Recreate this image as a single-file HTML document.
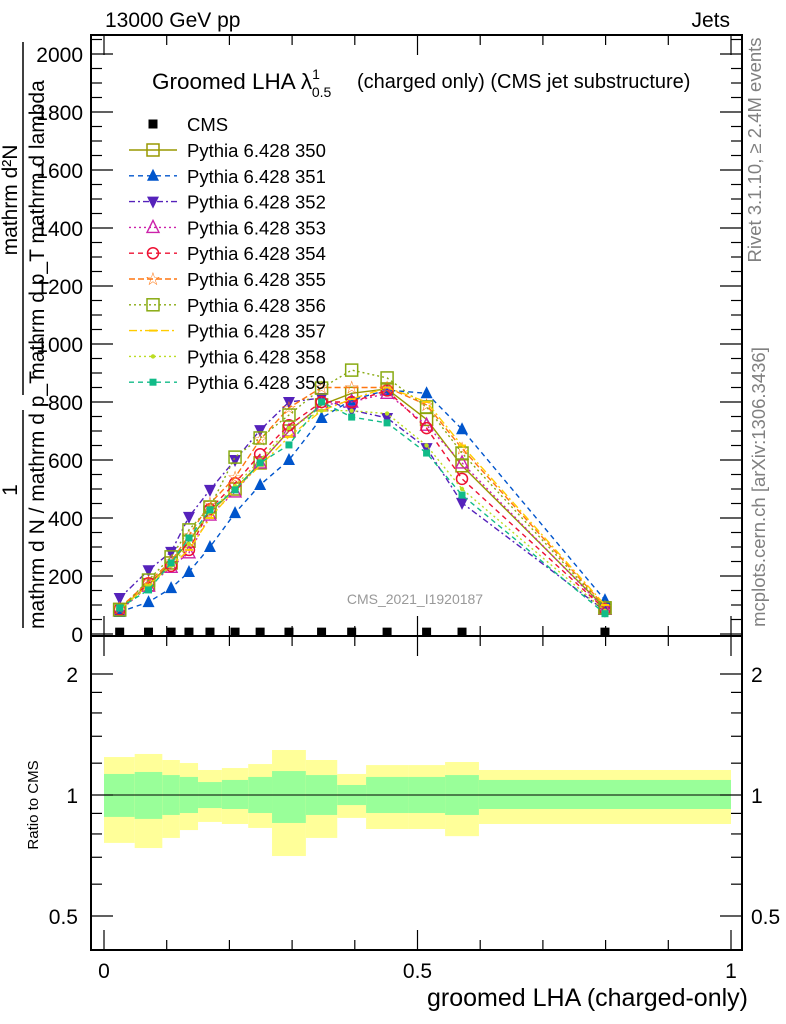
<!DOCTYPE html>
<html><head><meta charset="utf-8"><style>
body{margin:0;background:#fff;}
svg{display:block;font-family:"Liberation Sans",sans-serif;}
</style></head><body>
<svg id="c" width="786" height="1024" xmlns="http://www.w3.org/2000/svg">
<g id="g"></g>
</svg>
<script>
const categories=[0.025,0.071,0.107,0.1355,0.169,0.209,0.249,0.295,0.347,0.395,0.4515,0.5145,0.571,0.799];
const binEdges=[0,0.049,0.093,0.121,0.15,0.188,0.230,0.268,0.322,0.372,0.418,0.485,0.544,0.598,1.0];
const cmsValues=[3,3,3,3,3,3,3,3,3,3,3,3,3,3];
const s350=[85,170,245,320,420,500,590,700,790,830,845,740,580,90];
const s351=[76,110,158,214,300,417,514,600,745,807,841,830,706,117];
const s352=[124,220,283,404,497,600,703,800,814,772,745,641,452,80];
const s353=[80,165,230,280,410,490,590,700,790,800,830,720,590,85];
const s354=[85,175,235,290,430,520,620,720,800,800,840,710,535,85];
const s355=[90,180,250,340,450,540,670,780,850,850,850,790,640,95];
const s356=[83,186,266,359,438,610,676,755,848,910,883,783,624,90];
const s357=[85,170,235,290,400,500,580,680,770,810,850,800,650,100];
const s358=[85,165,235,310,420,510,600,710,770,770,760,650,500,80];
const s359=[90,152,245,331,428,497,590,652,800,748,728,624,479,70];
const greenUp=[1.128,1.141,1.121,1.109,1.077,1.09,1.109,1.147,1.121,1.059,1.109,1.109,1.121,1.09];
const greenDn=[0.882,0.872,0.892,0.902,0.928,0.923,0.902,0.852,0.892,0.944,0.902,0.902,0.892,0.923];
const yellowUp=[1.243,1.265,1.222,1.201,1.154,1.167,1.194,1.294,1.222,1.128,1.187,1.187,1.208,1.154];
const yellowDn=[0.760,0.738,0.782,0.818,0.857,0.847,0.828,0.705,0.782,0.877,0.823,0.823,0.79,0.847];
const yTicks=[0,200,400,600,800,1000,1200,1400,1600,1800,2000];
const xTicks=[0,0.5,1];
const rTicks=[0.5,1,2];

const NS="http://www.w3.org/2000/svg";
const g=document.getElementById('g');
const L=91,R=742,T=35,B=636,RB=950;
const X=v=>104+v*627;
const Y=v=>634-v*0.29;
const RY=v=>795-121*Math.log2(v);
function mk(t,a,p){const e=document.createElementNS(NS,t);for(const k in a)e.setAttribute(k,a[k]);(p||g).appendChild(e);return e;}

for(let i=0;i<categories.length;i++){
  const x0=X(binEdges[i]),x1=X(binEdges[i+1]);
  const yb=mk('rect',{x:x0,y:RY(yellowUp[i]),width:x1-x0,height:RY(yellowDn[i])-RY(yellowUp[i]),fill:'#ffff99'});
  
  
  const gb=mk('rect',{x:x0,y:RY(greenUp[i]),width:x1-x0,height:RY(greenDn[i])-RY(greenUp[i]),fill:'#99ff99'});
  
  
}
const ref=mk('line',{x1:X(0),x2:X(1),y1:RY(1),y2:RY(1),stroke:'#000','stroke-width':1});



for(const [t,b,n] of [[T,B,'main-plot-frame'],[B,RB,'ratio-plot-frame']]){
  const f=mk('rect',{x:L,y:t,width:R-L,height:b-t,fill:'none',stroke:'#000','stroke-width':2});
  
  
}
for(const [t,b] of [[T,B],[B,RB]]){
  for(let k=0;k<=10;k++){
    const v=k/10,len=(k%5==0)?20:10;
    mk('line',{x1:X(v),x2:X(v),y1:b,y2:b-len,stroke:'#000','stroke-width':1.2});
    mk('line',{x1:X(v),x2:X(v),y1:t,y2:t+len,stroke:'#000','stroke-width':1.2});
  }
}
for(let v=0;v<=2050;v+=50){
  const len=(v%200==0)?22:11;
  mk('line',{x1:L,x2:L+len,y1:Y(v),y2:Y(v),stroke:'#000','stroke-width':1.2});
  mk('line',{x1:R,x2:R-len,y1:Y(v),y2:Y(v),stroke:'#000','stroke-width':1.2});
}
yTicks.forEach(v=>{const t=mk('text',{x:83,y:Y(v)+8,'text-anchor':'end','font-size':21});t.textContent=v;

});
const rMinor=[0.5,0.6,0.7,0.8,0.9,1,1.2,1.4,1.6,1.8,2];
rMinor.forEach(v=>{const len=rTicks.includes(v)?22:11;
  mk('line',{x1:L,x2:L+len,y1:RY(v),y2:RY(v),stroke:'#000','stroke-width':1.2});
  mk('line',{x1:R,x2:R-len,y1:RY(v),y2:RY(v),stroke:'#000','stroke-width':1.2});});
rTicks.forEach(v=>{
  const t=mk('text',{x:78,y:RY(v)+8,'text-anchor':'end','font-size':21});t.textContent=v;
  
  
  const t2=mk('text',{x:751,y:RY(v)+8,'font-size':21});t2.textContent=v;
  
  });
xTicks.forEach(v=>{const t=mk('text',{x:X(v),y:978,'text-anchor':'middle','font-size':21});t.textContent=v;

});

function marker(type,x,y,col,p){
  const s=6;
  if(type=='sq')return mk('rect',{x:x-s,y:y-s,width:2*s,height:2*s,fill:'none',stroke:col,'stroke-width':1.5},p);
  if(type=='sqf')return mk('rect',{x:x-4.5,y:y-4.5,width:9,height:9,fill:col},p);
  if(type=='sqs')return mk('rect',{x:x-3.5,y:y-3.5,width:7,height:7,fill:col},p);
  if(type=='tu')return mk('polygon',{points:`${x},${y-7} ${x-6},${y+5} ${x+6},${y+5}`,fill:col},p);
  if(type=='td')return mk('polygon',{points:`${x},${y+7} ${x-6},${y-5} ${x+6},${y-5}`,fill:col},p);
  if(type=='to')return mk('polygon',{points:`${x},${y-7} ${x-6},${y+5} ${x+6},${y+5}`,fill:'none',stroke:col,'stroke-width':1.4},p);
  if(type=='co')return mk('circle',{cx:x,cy:y,r:5.5,fill:'none',stroke:col,'stroke-width':1.5},p);
  if(type=='st')return mk('text',{x:x,y:y+6,'text-anchor':'middle','font-size':18,fill:col},p);
  if(type=='dot')return mk('circle',{cx:x,cy:y,r:2.2,fill:col},p);
  if(type=='dash')return mk('line',{x1:x-4,x2:x+4,y1:y,y2:y,stroke:col,'stroke-width':2},p);
}
const series=[
 ['Pythia 6.428 350',s350,'#999900','none','sq','series-350'],
 ['Pythia 6.428 351',s351,'#0055cc','5,4','tu','series-351'],
 ['Pythia 6.428 352',s352,'#5522bb','6,3,2,3','td','series-352'],
 ['Pythia 6.428 353',s353,'#cc22aa','2,3','to','series-353'],
 ['Pythia 6.428 354',s354,'#ee1133','5,4','co','series-354'],
 ['Pythia 6.428 355',s355,'#ff7711','6,3','st','series-355'],
 ['Pythia 6.428 356',s356,'#88aa11','2,3','sq','series-356'],
 ['Pythia 6.428 357',s357,'#ffcc00','8,3,2,3','dash','series-357'],
 ['Pythia 6.428 358',s358,'#bbdd22','2,3','dot','series-358'],
 ['Pythia 6.428 359',s359,'#11bb88','5,4','sqs','series-359'],
];
series.forEach(([lab,vals,col,dash,m,name])=>{
  const grp=mk('g',{});
  
  
  const pts=vals.map((v,i)=>X(categories[i])+','+Y(v)).join(' ');
  const a={points:pts,fill:'none',stroke:col,'stroke-width':1.4};
  if(dash!='none')a['stroke-dasharray']=dash;
  mk('polyline',a,grp);
  vals.forEach((v,i)=>{const e=marker(m,X(categories[i]),Y(v),col,grp);if(m=='st')e.textContent='☆';});
});
const cg=mk('g',{});


cmsValues.forEach((v,i)=>{marker('sqf',X(categories[i]),Y(v)-1,'#000',cg);});

function txt(x,y,s,attrs,name){const t=mk('text',Object.assign({x:x,y:y},attrs));t.textContent=s;
 
 return t;}
const lg=mk('g',{});


marker('sqf',153,124,'#000',lg);
txt(187,131,'CMS',{'font-size':18.5},'legend-entry-cms');
series.forEach(([lab,vals,col,dash,m,name],k)=>{
  const y=150+k*25.8;
  const a={x1:129,x2:177,y1:y,y2:y,stroke:col,'stroke-width':1.4};
  if(dash!='none')a['stroke-dasharray']=dash;
  mk('line',a,lg);
  const e=marker(m,153,y,col,lg);if(m=='st')e.textContent='☆';
  txt(187,y+7,lab,{'font-size':18.5},'legend-entry-'+name);
});

txt(105,27,'13000 GeV pp',{'font-size':21},'beam-label');
txt(730,27,'Jets',{'font-size':21,'text-anchor':'end'},'process-label');
const ti=mk('text',{x:152,y:89,'font-size':22.5});


ti.innerHTML='Groomed LHA λ<tspan font-size="14" dy="-10">1</tspan><tspan font-size="14" dx="-8" dy="18">0.5</tspan>';
txt(357,88,'(charged only) (CMS jet substructure)',{'font-size':20},'plot-subtitle');
txt(415,604,'CMS_2021_I1920187',{'font-size':14,fill:'#999','text-anchor':'middle'},'analysis-id');
txt(748,1006,'groomed LHA (charged-only)',{'font-size':25,'text-anchor':'end'},'x-axis-title');
txt(0,0,'Ratio to CMS',{'font-size':15,'text-anchor':'middle',transform:'translate(38,805) rotate(-90)'},'ratio-y-axis-title');
txt(0,0,'Rivet 3.1.10, ≥ 2.4M events',{'font-size':18.5,fill:'#808080','text-anchor':'middle',transform:'translate(761,150) rotate(-90)'},'rivet-label');
txt(0,0,'mcplots.cern.ch [arXiv:1306.3436]',{'font-size':18.5,fill:'#808080','text-anchor':'middle',transform:'translate(765,487) rotate(-90)'},'mcplots-label');
txt(0,0,'mathrm d²N',{'font-size':21,'text-anchor':'middle',transform:'translate(17,200) rotate(-90)'},'y-axis-title-num1');
txt(0,0,'1',{'font-size':21,'text-anchor':'middle',transform:'translate(17,490) rotate(-90)'},'y-axis-title-num2');
txt(0,0,'mathrm d p_T mathrm d lambda',{'font-size':21,'text-anchor':'middle',transform:'translate(44,230) rotate(-90)'},'y-axis-title-den1');
txt(0,0,'mathrm d N / mathrm d p_T',{'font-size':21,'text-anchor':'middle',transform:'translate(44,500) rotate(-90)'},'y-axis-title-den2');
mk('line',{x1:23,x2:23,y1:42,y2:395,stroke:'#000','stroke-width':1.5});
mk('line',{x1:23,x2:23,y1:410,y2:628,stroke:'#000','stroke-width':1.5});
</script>
</body></html>
